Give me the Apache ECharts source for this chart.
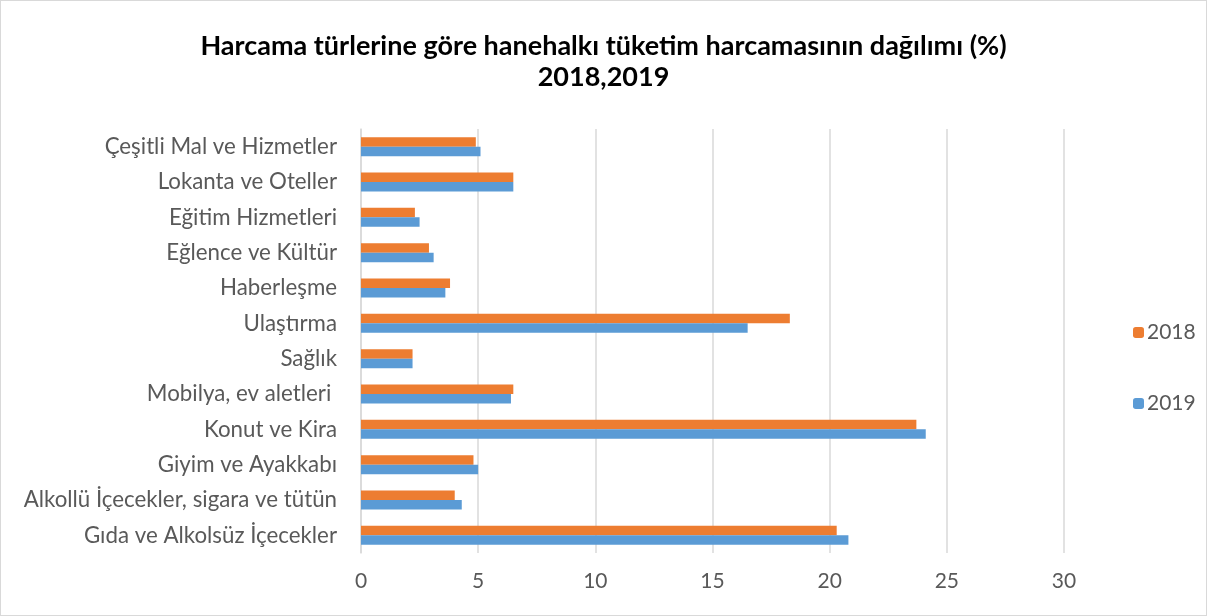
<!DOCTYPE html>
<html>
  <head>
    <meta charset="UTF-8" />
    <title>Harcama türleri</title>
    <script src="https://cdn.jsdelivr.net/npm/echarts@6/dist/echarts.min.js"></script>
    <style>
      body { margin: 0; }
      #chart {
        width: 1207px;
        height: 616px;
        box-sizing: border-box;
        border: 1px solid #d9d9d9;
      }
    </style>
  </head>
  <body>
    <div id="chart"></div>
  </body>
  <script>
    // categories listed bottom -> top, as the category axis draws them
    let categories = [
      'Gıda ve Alkolsüz İçecekler',
      'Alkollü İçecekler, sigara ve tütün',
      'Giyim ve Ayakkabı',
      'Konut ve Kira',
      'Mobilya, ev aletleri ',
      'Sağlık',
      'Ulaştırma',
      'Haberleşme',
      'Eğlence ve Kültür',
      'Eğitim Hizmetleri',
      'Lokanta ve Oteller',
      'Çeşitli Mal ve Hizmetler'
    ];
    let values2018 = [20.3, 4.0, 4.8, 23.7, 6.5, 2.2, 18.3, 3.8, 2.9, 2.3, 6.5, 4.9];
    let values2019 = [20.8, 4.3, 5.0, 24.1, 6.4, 2.2, 16.5, 3.6, 3.1, 2.5, 6.5, 5.1];

    let myChart = echarts.init(document.getElementById('chart'));

    myChart.setOption({
      animation: false,
      textStyle: { fontFamily: 'Lato' },
      title: {
        text: 'Harcama türlerine göre hanehalkı tüketim harcamasının dağılımı (%)\n2018,2019',
        left: 'center',
        top: 25,
        textStyle: {
          fontFamily: 'Lato',
          fontWeight: 'bold',
          fontSize: 27,
          lineHeight: 31,
          color: '#000'
        }
      },
      legend: {
        orient: 'vertical',
        left: 1127,
        top: 316,
        itemGap: 50,
        itemWidth: 11,
        itemHeight: 11,
        data: ['2018', '2019'],
        textStyle: { fontSize: 21, color: '#595959', padding: [0, 0, 0, -2] }
      },
      grid: {
        left: 360,
        right: 142,
        top: 128,
        bottom: 62,
        containLabel: false
      },
      xAxis: {
        type: 'value',
        min: 0,
        max: 30,
        interval: 5,
        axisLine: { show: false },
        axisTick: { show: false },
        axisLabel: { fontSize: 21, color: '#595959', margin: 18 },
        splitLine: { lineStyle: { color: '#d9d9d9', width: 1.5 } }
      },
      yAxis: {
        type: 'category',
        data: categories,
        axisLine: { lineStyle: { color: '#d9d9d9', width: 1.5 } },
        axisTick: { show: false },
        axisLabel: { fontSize: 22.3, color: '#595959', margin: 24 }
      },
      series: [
        {
          name: '2018',
          type: 'bar',
          data: values2018,
          itemStyle: { color: '#ED7D31' },
          barWidth: 9.5,
          barGap: '0%'
        },
        {
          name: '2019',
          type: 'bar',
          data: values2019,
          itemStyle: { color: '#5B9BD5' },
          barWidth: 9.5,
          barGap: '0%'
        }
      ]
    });
  </script>
</html>
